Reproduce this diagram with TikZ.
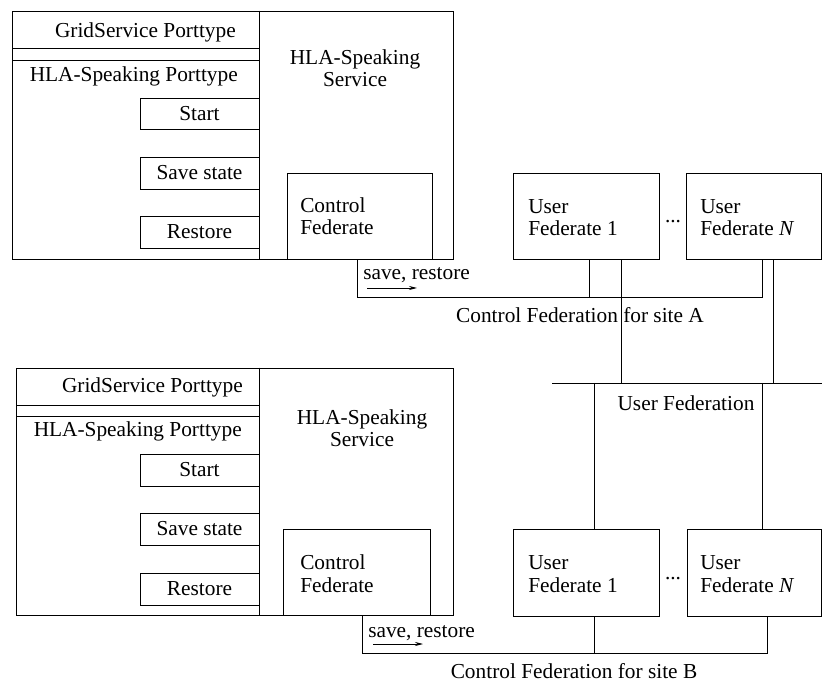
\documentclass[tikz,border=0pt]{standalone}
\usepackage{fontspec}
\setmainfont{Liberation Serif}
\usetikzlibrary{fit,arrows.meta}

\begin{document}
\begin{tikzpicture}[
    x=0.75pt, y=-0.75pt,
    font=\fontsize{16pt}{17pt}\selectfont,
    every node/.style={inner sep=0pt},
    box/.style={rectangle, draw, line width=0.7pt, inner sep=0pt},
    wire/.style={draw, line width=0.7pt},
    txt/.style={align=left, anchor=base west},
    flow/.style={-{Stealth[length=6pt, width=3pt]}, line width=0.6pt}
]
\useasboundingbox (0,0) rectangle (822,684);

% site A: HLA-Speaking service
\node[box, fit={(12,11) (453,259)}] (svcA) {};
\node[box, fit={(12,11) (259,48)}] (gsA) {};
\node[box, fit={(12,60) (259,259)}] (hpA) {};
\node[box, fit={(140,98) (259,129)}] (startA) {};
\node[box, fit={(140,157) (259,189)}] (saveA) {};
\node[box, fit={(140,216) (259,248)}] (restA) {};
\node[box, fit={(287,173) (432,259)}] (cfA) {};
\draw[wire] (gsA.north east) -- (hpA.south east);
\node at (startA) {Start};
\node at (saveA) {Save state};
\node at (restA) {Restore};
\node[anchor=base east] (gsAtxt) at (236,38) {GridService Porttype};
\node[anchor=base east] (hpAtxt) at (238,82) {HLA-Speaking Porttype};
\node[align=center, anchor=base] (svcAtxt) at (355,87) {HLA-Speaking\\Service};
\node[txt] (cfAtxt) at (300,235) {Control\\Federate};

% site A: user federates
\node[box, fit={(513,173) (659,259)}] (uf1A) {};
\node[box, fit={(686,173) (821,259)}] (ufnA) {};
\node[txt] (uf1Atxt) at (528,236) {User\\Federate 1};
\node[txt] (ufnAtxt) at (700,236) {User\\Federate \textit{N}};
\node[anchor=base] (dotsA) at (673,223) {...};

% site B: HLA-Speaking service
\node[box, fit={(16,368) (453,615)}] (svcB) {};
\node[box, fit={(16,368) (259,405)}] (gsB) {};
\node[box, fit={(16,416) (259,615)}] (hpB) {};
\node[box, fit={(140,454) (259,486)}] (startB) {};
\node[box, fit={(140,513) (259,545)}] (saveB) {};
\node[box, fit={(140,573) (259,605)}] (restB) {};
\node[box, fit={(283,529) (430,615)}] (cfB) {};
\draw[wire] (gsB.north east) -- (hpB.south east);
\node at (startB) {Start};
\node at (saveB) {Save state};
\node at (restB) {Restore};
\node[anchor=base east] (gsBtxt) at (243,393) {GridService Porttype};
\node[anchor=base east] (hpBtxt) at (242,437) {HLA-Speaking Porttype};
\node[align=center, anchor=base] (svcBtxt) at (362,447) {HLA-Speaking\\Service};
\node[txt] (cfBtxt) at (300,592) {Control\\Federate};

% site B: user federates
\node[box, fit={(513,529) (659,616)}] (uf1B) {};
\node[box, fit={(687,529) (821,616)}] (ufnB) {};
\node[txt] (uf1Btxt) at (528,592) {User\\Federate 1};
\node[txt] (ufnBtxt) at (700,592) {User\\Federate \textit{N}};
\node[anchor=base] (dotsB) at (673,580) {...};

% control federation A
\coordinate (ctlAl) at (357,297);
\coordinate (ctlAr) at (762,297);
\coordinate (tapA1) at (589,297);
\draw[wire] (cfA.south -| ctlAl) -- (ctlAl) -- (ctlAr) -- (ctlAr |- ufnA.south);
\draw[wire] (tapA1) -- (tapA1 |- uf1A.south);
\node[anchor=base west] (saveAtxt) at (363,280) {save, restore};
\coordinate (flowA) at (367,288);
\draw[flow] (flowA) -- ++(50,0);
\node[anchor=base] (ctlAtxt) at (580,323) {Control Federation for site A};

% user federation
\coordinate (ubL) at (552,383);
\coordinate (ubR) at (822,383);
\coordinate (upA1) at (621,383);
\coordinate (upAn) at (773,383);
\coordinate (dnB1) at (594,383);
\coordinate (dnBn) at (762,383);
\draw[wire] (ubL) -- (ubR);
\draw[wire] (upA1) -- (upA1 |- uf1A.south);
\draw[wire] (upAn) -- (upAn |- ufnA.south);
\draw[wire] (dnB1) -- (dnB1 |- uf1B.north);
\draw[wire] (dnBn) -- (dnBn |- ufnB.north);
\node[anchor=base] (ufedtxt) at (686,411) {User Federation};

% control federation B
\coordinate (ctlBl) at (362,653);
\coordinate (ctlBr) at (767,653);
\coordinate (tapB1) at (594,653);
\draw[wire] (cfB.south -| ctlBl) -- (ctlBl) -- (ctlBr) -- (ctlBr |- ufnB.south);
\draw[wire] (tapB1) -- (tapB1 |- uf1B.south);
\node[anchor=base west] (saveBtxt) at (368,637) {save, restore};
\coordinate (flowB) at (373,644);
\draw[flow] (flowB) -- ++(50,0);
\node[anchor=base] (ctlBtxt) at (574,678) {Control Federation for site B};
\end{tikzpicture}
\end{document}
